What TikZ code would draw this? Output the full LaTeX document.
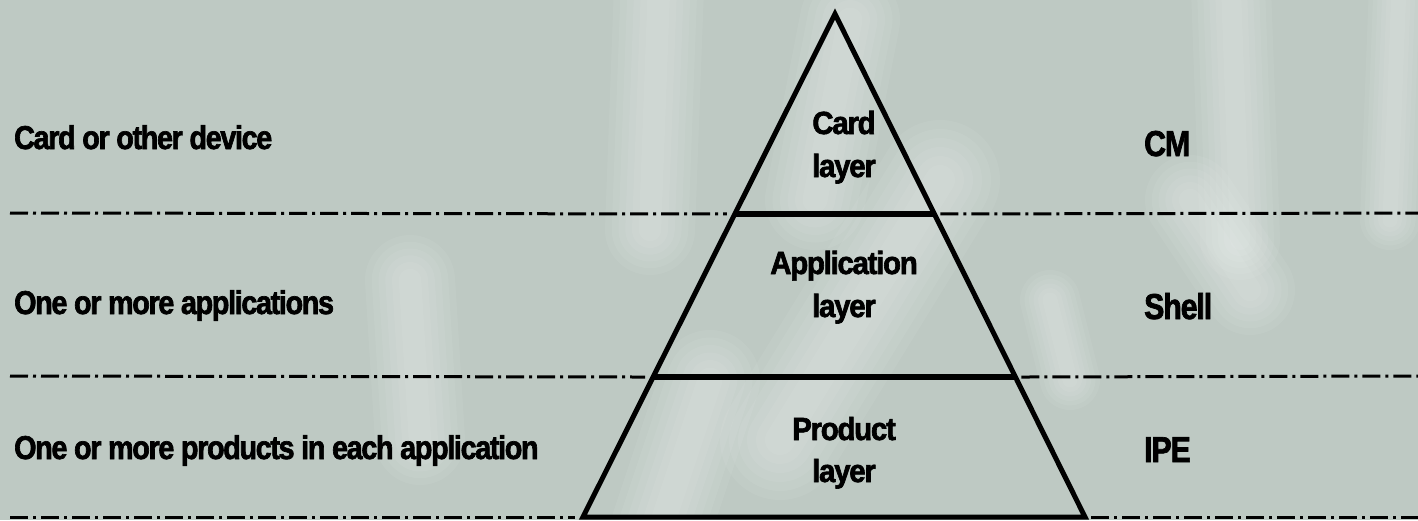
\documentclass[tikz,border=0pt]{standalone}
\usepackage{fontspec}
\newfontfamily\lfont{Liberation Sans}[FakeStretch=0.87, LetterSpace=-4, FakeBold=2]
\newfontfamily\rfont{Liberation Sans}[FakeStretch=0.84, LetterSpace=-3, FakeBold=2]
\newfontfamily\pfont{Liberation Sans}[FakeStretch=0.92, LetterSpace=-4, FakeBold=2]
\usetikzlibrary{calc}
\definecolor{bg}{RGB}{190,201,195}
\newcommand{\softstreak}[3]{%
  \foreach \w in {1.0,0.85,0.7,0.55,0.4,0.25}{%
    \draw[white, opacity=0.06, line cap=round, line width=#1*\w pt] #2 -- #3;}}
\tikzset{
  lefttext/.style={anchor=base west, inner sep=0pt, font=\lfont\bfseries\fontsize{33}{36}\selectfont},
  righttext/.style={anchor=base west, inner sep=0pt, font=\rfont\bfseries\fontsize{36}{40}\selectfont},
  pyrtext/.style={anchor=base, inner sep=0pt, font=\pfont\bfseries\fontsize{32}{35}\selectfont},
  dashdot/.style={line width=3pt, dash pattern=on 18pt off 5pt on 3pt off 5pt},
  divider/.style={line width=6pt},
  outline/.style={line width=5pt, line join=miter}
}
\begin{document}
\begin{tikzpicture}[x=1pt,y=-1pt]
\useasboundingbox (0,0) rectangle (1418,520);
\fill[bg] (0,0) rectangle (1418,520);
% soft background streaks
\softstreak{90}{(660,-40)}{(650,230)}
\softstreak{100}{(850,20)}{(815,200)}
\softstreak{120}{(940,180)}{(780,440)}
\softstreak{100}{(710,380)}{(650,560)}
\softstreak{80}{(1230,-40)}{(1240,240)}
\softstreak{90}{(1190,200)}{(1250,290)}
\softstreak{60}{(1050,300)}{(1070,380)}
\softstreak{90}{(410,280)}{(420,440)}
\softstreak{60}{(1400,-40)}{(1390,220)}

\coordinate (apex) at (835,14);
\coordinate (bl) at (583,517);
\coordinate (br) at (1085,517);
\coordinate (l1) at ($(apex)!0.3976!(bl)$);
\coordinate (r1) at ($(apex)!0.3976!(br)$);
\coordinate (l2) at ($(apex)!0.7217!(bl)$);
\coordinate (r2) at ($(apex)!0.7217!(br)$);
\coordinate (a1) at (10,213);
\coordinate (b1) at (1418,213);
\coordinate (a2) at (10,376);
\coordinate (b2) at (1418,376);
\coordinate (a3) at (10,517);
\coordinate (b3) at (1418,517);

% dash-dot separators
\draw[dashdot] (a1) -- ($(l1)+(-8,0)$);
\draw[dashdot] ($(r1)+(6,0)$) -- (b1);
\draw[dashdot] (a2) -- ($(l2)+(-8,0)$);
\draw[dashdot] ($(r2)+(6,0)$) -- (b2);
\draw[dashdot] (a3) -- ($(bl)+(-8,0)$);
\draw[dashdot] ($(br)+(6,0)$) -- (b3);

% pyramid
\draw[divider] (l1) -- (r1);
\draw[divider] (l2) -- (r2);
\draw[outline] (apex) -- (bl) -- (br) -- cycle;

% pyramid labels
\node[pyrtext] (card1) at (844,134) {Card};
\node[pyrtext] (card2) at (844,177) {layer};
\node[pyrtext] (app1) at (844,274) {Application};
\node[pyrtext] (app2) at (844,317) {layer};
\node[pyrtext] (prod1) at (844,440) {Product};
\node[pyrtext] (prod2) at (844,482) {layer};

% left labels
\node[lefttext] (ltop) at (14,149) {Card or other device};
\node[lefttext] (lmid) at (14,314) {One or more applications};
\node[lefttext] (lbot) at (14,459) {One or more products in each application};

% right labels
\node[righttext] (rtop) at (1144,156) {CM};
\node[righttext] (rmid) at (1144,319) {Shell};
\node[righttext] (rbot) at (1144,462) {IPE};
\end{tikzpicture}
\end{document}
